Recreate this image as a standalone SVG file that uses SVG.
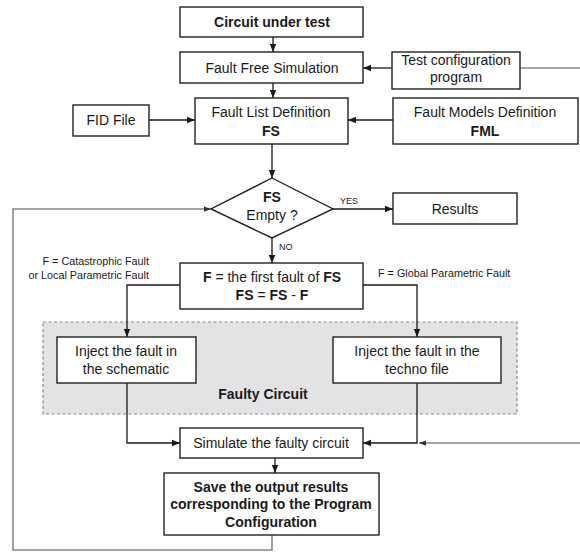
<svg xmlns="http://www.w3.org/2000/svg" width="580" height="552" viewBox="0 0 580 552">
<defs>
<marker id="ah" viewBox="0 0 8 8" refX="8" refY="4" markerWidth="8" markerHeight="8" markerUnits="userSpaceOnUse" orient="auto">
<path d="M0,0.8 L8,4 L0,7.2 Z" fill="#1a1a1a"/>
</marker>
<marker id="ahg" viewBox="0 0 8 8" refX="8" refY="4" markerWidth="7" markerHeight="7" markerUnits="userSpaceOnUse" orient="auto">
<path d="M0,1 L8,4 L0,7 Z" fill="#333"/>
</marker>
</defs>
<style>
.box{fill:#fff;stroke:#222;stroke-width:1.4}
.t{font-family:"Liberation Sans",Arial,sans-serif;font-size:14px;fill:#1a1a1a;text-anchor:middle}
.b{font-weight:bold}
.s{font-family:"Liberation Sans",Arial,sans-serif;font-size:10.8px;fill:#1a1a1a}
.y{font-family:"Liberation Sans",Arial,sans-serif;font-size:9px;fill:#1a1a1a}
.c{fill:none;stroke:#1a1a1a;stroke-width:1.3}
.g{fill:none;stroke:#888;stroke-width:1.6}
</style>
<rect width="580" height="552" fill="#fff"/>

<g id="faulty-region">
<rect x="43" y="322" width="474" height="92" fill="#e3e3e5" stroke="#888" stroke-width="1.2" stroke-dasharray="3,2.5"/>
<text class="t b" x="263" y="399">Faulty Circuit</text>
</g>

<g id="connectors">
<line class="c" x1="273" y1="37" x2="273" y2="52" marker-end="url(#ah)"/>
<line class="c" x1="273" y1="83" x2="273" y2="98" marker-end="url(#ah)"/>
<line class="c" x1="392" y1="68" x2="363" y2="68" marker-end="url(#ah)"/>
<line class="g" x1="520" y1="68" x2="580" y2="68"/>
<line class="c" x1="149" y1="120" x2="195" y2="120" marker-end="url(#ah)"/>
<line class="c" x1="393" y1="120" x2="348" y2="120" marker-end="url(#ah)"/>
<line class="c" x1="272" y1="144" x2="272" y2="178" marker-end="url(#ah)"/>
<line class="c" x1="333" y1="209" x2="393" y2="209" marker-end="url(#ah)"/>
<line class="c" x1="272" y1="238" x2="272" y2="263" marker-end="url(#ah)"/>
<polyline class="c" points="180,285 127,285 127,337" marker-end="url(#ah)"/>
<polyline class="c" points="363,285 417,285 417,337" marker-end="url(#ah)"/>
<polyline class="c" points="127,383 127,443 180,443" marker-end="url(#ah)"/>
<polyline class="c" points="417,383 417,443 363,443" marker-end="url(#ah)"/>
<line class="g" x1="580" y1="443" x2="419" y2="443" marker-end="url(#ahg)"/>
<line class="c" x1="275" y1="458" x2="275" y2="473" marker-end="url(#ah)"/>
<polyline class="g" points="272,535 272,550 13,550 13,209 211,209" marker-end="url(#ahg)"/>
<text class="y" x="340" y="204">YES</text>
<text class="y" x="279" y="250">NO</text>
<text class="s" x="149" y="265" text-anchor="end">F = Catastrophic Fault</text>
<text class="s" x="149" y="279" text-anchor="end">or Local Parametric Fault</text>
<text class="s" x="378" y="277">F = Global Parametric Fault</text>
</g>

<g id="circuit-under-test">
<rect class="box" x="180" y="7" width="183" height="30"/>
<text class="t b" x="272" y="27">Circuit under test</text>
</g>
<g id="fault-free-simulation">
<rect class="box" x="180" y="52" width="183" height="31"/>
<text class="t" x="272" y="73">Fault Free Simulation</text>
</g>
<g id="test-configuration">
<rect class="box" x="392" y="52" width="128" height="37"/>
<text class="t" x="456" y="65">Test configuration</text>
<text class="t" x="456" y="82">program</text>
</g>
<g id="fid-file">
<rect class="box" x="73" y="105" width="76" height="31"/>
<text class="t" x="111" y="125">FID File</text>
</g>
<g id="fault-list-definition">
<rect class="box" x="195" y="98" width="153" height="46"/>
<text class="t" x="271" y="117">Fault List Definition</text>
<text class="t b" x="271" y="136">FS</text>
</g>
<g id="fault-models-definition">
<rect class="box" x="393" y="98" width="185" height="46"/>
<text class="t" x="485" y="117">Fault Models Definition</text>
<text class="t b" x="485" y="136">FML</text>
</g>
<g id="decision">
<polygon class="box" points="272,178 333,209 272,238 211,209"/>
<text class="t b" x="272" y="202">FS</text>
<text class="t" x="272" y="220">Empty ?</text>
</g>
<g id="results">
<rect class="box" x="393" y="193" width="124" height="31"/>
<text class="t" x="455" y="214">Results</text>
</g>
<g id="first-fault">
<rect class="box" x="180" y="263" width="183" height="46"/>
<text class="t" x="272" y="282"><tspan class="b">F</tspan> = the first fault of <tspan class="b">FS</tspan></text>
<text class="t" x="272" y="300"><tspan class="b">FS</tspan> = <tspan class="b">FS</tspan> - <tspan class="b">F</tspan></text>
</g>
<g id="inject-schematic">
<rect class="box" x="57" y="337" width="139" height="46"/>
<text class="t" x="126" y="356">Inject the fault in</text>
<text class="t" x="126" y="374">the schematic</text>
</g>
<g id="inject-techno">
<rect class="box" x="333" y="337" width="168" height="46"/>
<text class="t" x="417" y="356">Inject the fault in the</text>
<text class="t" x="417" y="374">techno file</text>
</g>
<g id="simulate">
<rect class="box" x="180" y="428" width="183" height="30"/>
<text class="t" x="271" y="448">Simulate the faulty circuit</text>
</g>
<g id="save-results">
<rect class="box" x="164" y="473" width="215" height="62"/>
<text class="t b" x="271" y="492">Save the output results</text>
<text class="t b" x="271" y="509">corresponding to the Program</text>
<text class="t b" x="271" y="527">Configuration</text>
</g>
</svg>
